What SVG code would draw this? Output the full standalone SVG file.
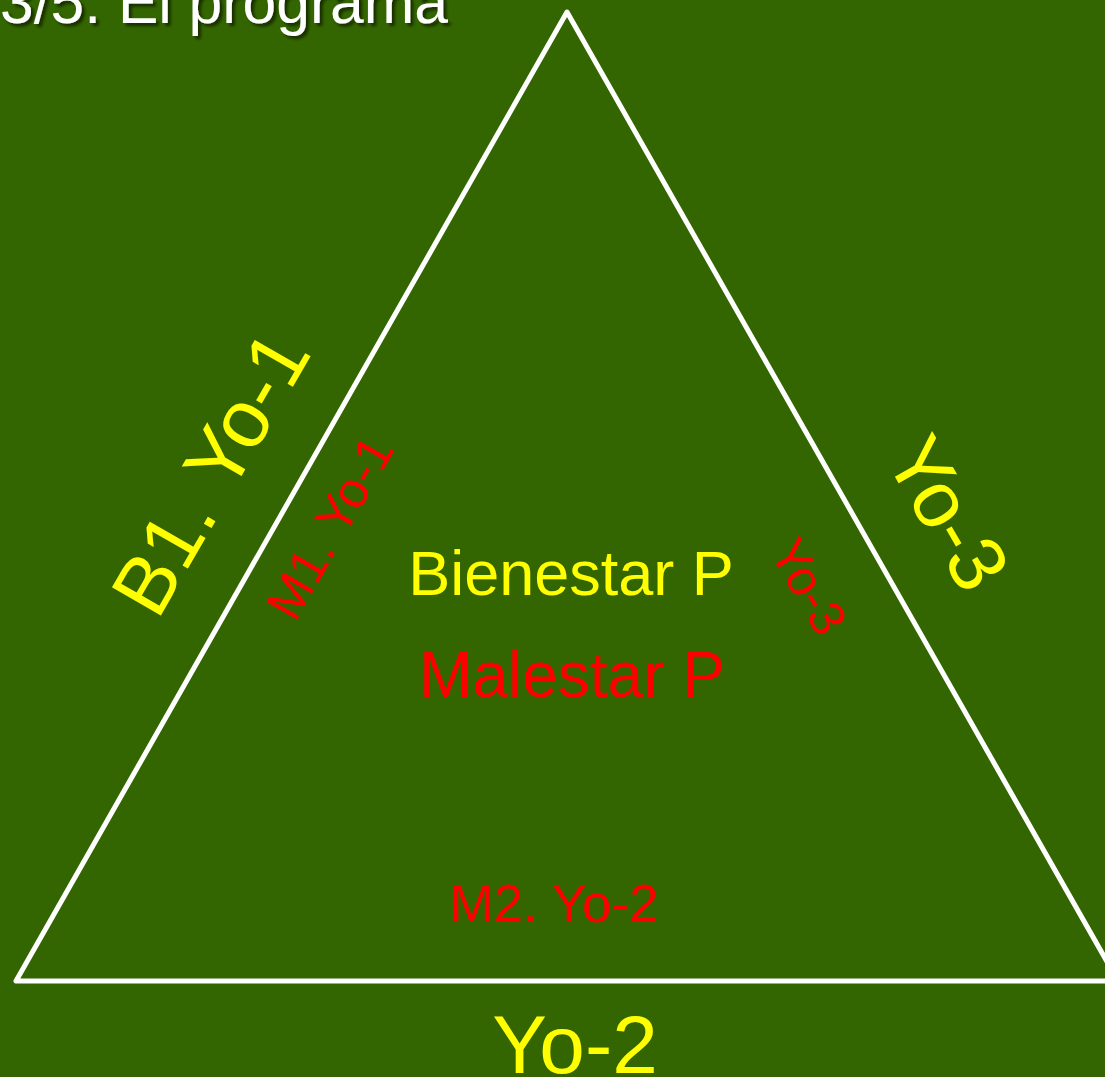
<svg xmlns="http://www.w3.org/2000/svg" width="1105" height="1077" viewBox="0 0 1105 1077">
  <defs>
    <filter id="shadow" x="-10%" y="-50%" width="120%" height="200%">
      <feDropShadow dx="3" dy="3" stdDeviation="1.5" flood-color="#000000" flood-opacity="0.55"/>
    </filter>
  </defs>
  <style>
    text { font-family: "Liberation Sans", Arial, sans-serif; }
    .title { fill: #ffffff; font-size: 60.6px; }
    .yel { fill: #ffff00; }
    .red { fill: #ff0000; }
    .edge { fill: none; stroke: #ffffff; stroke-width: 5; stroke-linejoin: round; stroke-linecap: round; }
  </style>
  <rect x="0" y="0" width="1105" height="1077" fill="#336600"/>

  <g id="title">
    <text class="title" x="0" y="23" filter="url(#shadow)">3/5. El programa</text>
  </g>

  <g id="connectors">
    <polygon class="edge" points="567,12 16,981 1118,981"/>
  </g>

  <g id="label-b1">
    <text class="yel" font-size="82" text-anchor="middle" transform="translate(235,487) rotate(-60)">B1. Yo-1</text>
  </g>
  <g id="label-m1">
    <text class="red" font-size="51" text-anchor="middle" transform="translate(345,536) rotate(-60)">M1. Yo-1</text>
  </g>
  <g id="label-yo3">
    <text class="yel" font-size="80" text-anchor="middle" transform="translate(924,527) rotate(60)">Yo-3</text>
  </g>
  <g id="label-m3">
    <text class="red" font-size="50" text-anchor="middle" transform="translate(794,595) rotate(60)">Yo-3</text>
  </g>
  <g id="center">
    <text class="yel" font-size="63" text-anchor="middle" x="571" y="595">Bienestar P</text>
    <text class="red" font-size="64" text-anchor="middle" x="572" y="697">Malestar P</text>
  </g>
  <g id="label-m2">
    <text class="red" font-size="53" text-anchor="middle" x="554" y="922">M2. Yo-2</text>
  </g>
  <g id="label-yo2">
    <text class="yel" font-size="82" text-anchor="middle" x="575" y="1073">Yo-2</text>
  </g>
</svg>
